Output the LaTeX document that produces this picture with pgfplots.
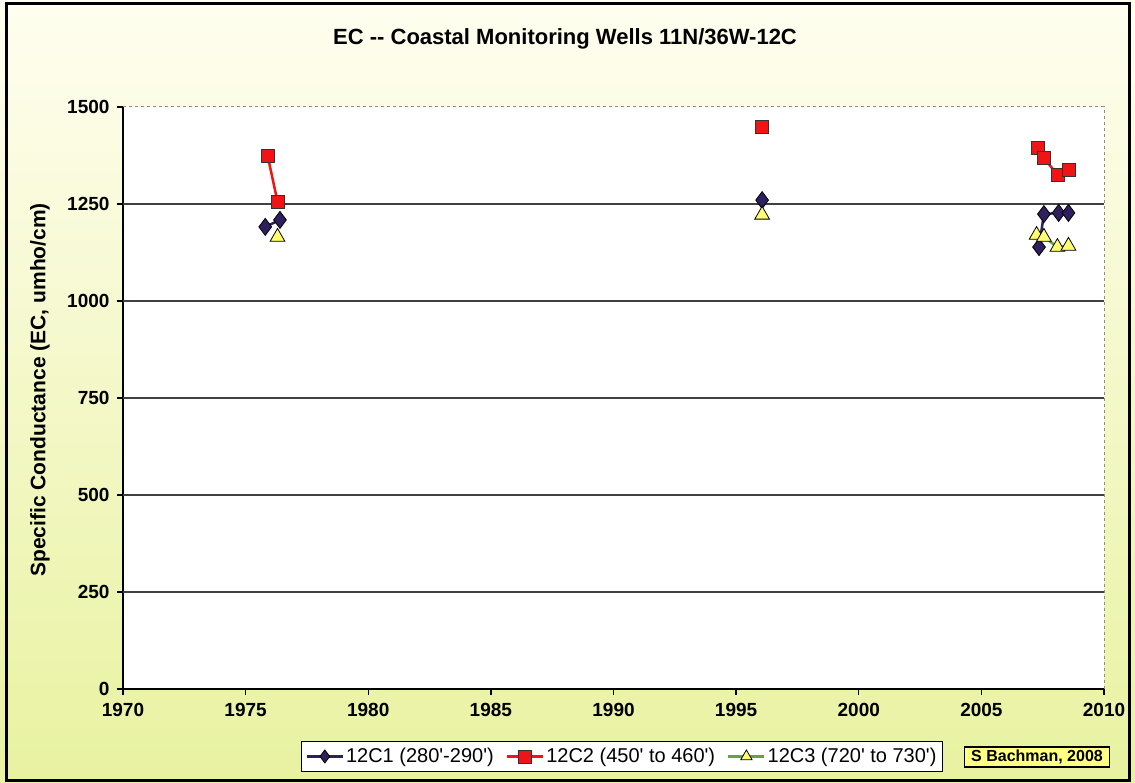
\documentclass[border=0pt]{standalone}
\usepackage{pgfplots}
\pgfplotsset{compat=1.18}
\usepackage{fontspec}
\setmainfont{Liberation Sans}
\definecolor{navy}{HTML}{2E1F5E}
\definecolor{redsq}{HTML}{F01414}
\definecolor{yeltri}{HTML}{FFFF70}
\definecolor{greenln}{HTML}{6AA040}
\definecolor{bgtop}{HTML}{FFFEF0}
\definecolor{bgmid}{HTML}{F9FBD2}
\definecolor{bgbot}{HTML}{E8F2A0}
\definecolor{tagfill}{HTML}{FFFF80}
\begin{document}
\begin{tikzpicture}[x=1pt,y=1pt]
\shade[top color=bgtop, middle color=bgmid, bottom color=bgbot] (0,0) rectangle (1135,782);
\draw[line width=3pt] (6,2) rectangle (1129,778);
\begin{axis}[
  at={(123pt,93pt)}, anchor=south west,
  scale only axis, width=981pt, height=582pt,
  xmin=1970, xmax=2010, ymin=0, ymax=1500,
  xtick={1970,1975,...,2010},
  ytick={0,250,...,1500},
  extra y ticks={250,500,750,1000,1250},
  extra y tick labels={},
  extra y tick style={ymajorgrids=true, major tick length=0pt},
  major grid style={black!75, line width=1.3pt},
  axis x line*=bottom, axis y line*=left,
  axis line style={-, line width=1.6pt, black},
  tick style={black, line width=1.3pt},
  major tick length=6pt, tick align=outside,
  axis background/.style={fill=white},
  /pgf/number format/1000 sep={},
  /pgf/number format/assume math mode=true,
  tick label style={font=\fontsize{19}{22}\selectfont\bfseries},
  xticklabel style={yshift=-5pt},
  yticklabel style={xshift=-4pt},
  title={EC -{}- Coastal Monitoring Wells 11N/36W-12C},
  title style={font=\fontsize{22}{26}\selectfont\bfseries, at={(axis description cs:0.4506,1.1065)}, anchor=center},
  ylabel={Specific Conductance (EC, umho/cm)},
  ylabel style={font=\fontsize{21}{24}\selectfont\bfseries, at={(axis description cs:-0.0846,0.514)}, anchor=center, rotate=0},
  unbounded coords=jump,
  clip=false,
  legend columns=3,
  legend style={at={(axis description cs:0.5087,-0.089)}, anchor=north, draw=black, line width=1.3pt, fill=white,
    font=\fontsize{20}{23}\selectfont, inner xsep=4pt, inner ysep=5pt,
    /tikz/every even column/.append style={column sep=10pt}},
  legend image code/.code={\draw[mark repeat=2,mark phase=2,#1,mark size=6.5pt] plot coordinates {(0pt,0pt) (18pt,0pt) (36pt,0pt)};},
]
\draw[black!45, dashed, line width=1pt] (rel axis cs:0,1) -- (rel axis cs:1,1) -- (rel axis cs:1,0);
\addplot[navy, line width=2.5pt, mark=diamond*, mark size=8.5pt, mark options={fill=navy, draw=black, line width=0.8pt, solid}]
  coordinates {(1975.8,1191) (1976.4,1209) (1986,nan) (1996.06,1260) (2002,nan) (2007.35,1139) (2007.55,1224) (2008.15,1227) (2008.55,1227)};
\addlegendentry{12C1 (280\textquotesingle-290\textquotesingle)}
\addplot[redsq, line width=2.5pt, mark=square*, mark size=6.5pt, mark options={fill=redsq, draw=black!80, line width=0.8pt, solid}]
  coordinates {(1975.9,1374) (1976.3,1256) (1986,nan) (1996.06,1448) (2002,nan) (2007.3,1394) (2007.55,1369) (2008.1,1325) (2008.55,1338)};
\addlegendentry{12C2 (450\textquotesingle{} to 460\textquotesingle)}
\addplot[greenln, line width=2.5pt, mark=triangle*, mark size=8.5pt, mark options={fill=yeltri, draw=black, line width=0.8pt, solid}]
  coordinates {(1976.3,1165) (1986,nan) (1996.06,1222) (2002,nan) (2007.25,1170) (2007.55,1165) (2008.1,1139) (2008.55,1142)};
\addlegendentry{12C3 (720\textquotesingle{} to 730\textquotesingle)}
\node[draw=black, line width=1.3pt, fill=tagfill, font=\fontsize{16}{19}\selectfont\bfseries, inner xsep=7pt, inner ysep=3pt, anchor=center]
  at (axis description cs:0.9317,-0.1168) {S Bachman, 2008};
\end{axis}
\end{tikzpicture}
\end{document}
